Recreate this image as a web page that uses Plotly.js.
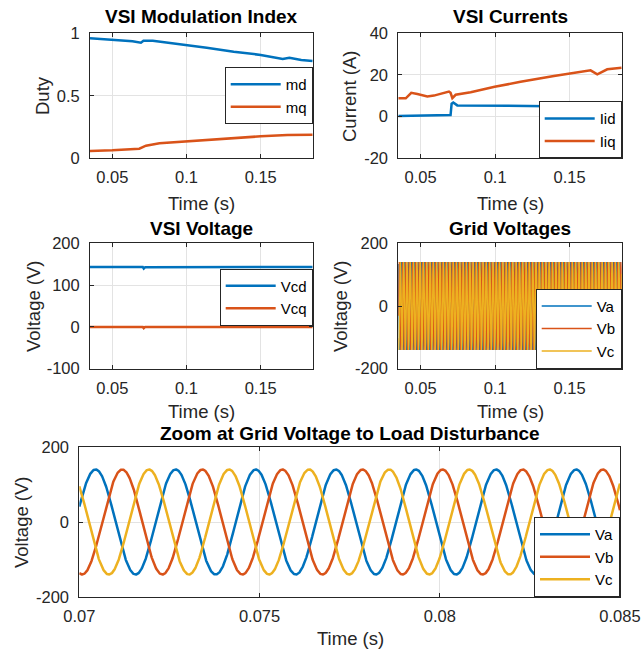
<!DOCTYPE html>
<html><head><meta charset="utf-8">
<script src="https://cdn.plot.ly/plotly-3.0.1.min.js"></script>
<style>html,body{margin:0;padding:0;background:#fff}</style>
</head><body><div id="chart" style="width:641px;height:652px"></div>
<script>
// ---- data ----
const mdTime = [0.035, 0.05, 0.0636, 0.0693, 0.071, 0.0773, 0.0864, 0.0995, 0.1136, 0.1318, 0.15, 0.1648, 0.1693, 0.1773, 0.185];
const md     = [0.96, 0.947, 0.936, 0.925, 0.941, 0.941, 0.928, 0.909, 0.885, 0.853, 0.827, 0.795, 0.805, 0.787, 0.779];
const mqTime = [0.035, 0.05, 0.0682, 0.0727, 0.0818, 0.0995, 0.1227, 0.15, 0.168, 0.185];
const mq     = [0.059, 0.064, 0.077, 0.101, 0.12, 0.136, 0.157, 0.176, 0.187, 0.189];

const iidTime = [0.035, 0.069, 0.0701, 0.0708, 0.0719, 0.0746, 0.0997, 0.15, 0.185];
const iid     = [0.3, 0.5, 0.8, 6.2, 6.8, 5.4, 5.2, 4.9, 4.9];
const iiqTime = [0.035, 0.04, 0.0437, 0.0478, 0.0545, 0.0589, 0.069, 0.0701, 0.0713, 0.0735, 0.0836, 0.0997, 0.1171, 0.1395, 0.1641, 0.1686, 0.1753, 0.185];
const iiq     = [8.8, 8.8, 11.4, 10.9, 9.7, 10.1, 12.0, 11.4, 8.9, 10.5, 11.7, 14.3, 16.7, 19.5, 22.2, 20.3, 22.7, 23.5];

const vcTime = [0.035, 0.0705, 0.0712, 0.0722, 0.185];
const vcd    = [143.5, 143.5, 139.5, 143, 143.5];
const vcq    = [0, 0, -3, 0, 0];

// grid voltage waveform parameters
const gridAmplitude = 140;      // V (peak)
const gridFrequencyHz = 450;    // from peak spacing (~2.22 ms)
const vaPeakTime = 0.07045;     // first Va peak in zoom window
const phaseLagDeg = [0, 120, 240]; // Va, Vb, Vc

const xTicksWide = [0.05, 0.1, 0.15];
const xTickTextWide = ['0.05', '0.1', '0.15'];
const xTicksZoom = [0.07, 0.075, 0.08, 0.085];
const xTickTextZoom = ['0.07', '0.075', '0.08', '0.085'];
const yTicksDuty = [0, 0.5, 1];           const yTextDuty = ['0', '0.5', '1'];
const yTicksCurr = [-20, 0, 20, 40];      const yTextCurr = ['-20', '0', '20', '40'];
const yTicksVsi  = [-100, 0, 100, 200];   const yTextVsi  = ['-100', '0', '100', '200'];
const yTicksGrid = [-200, 0, 200];        const yTextGrid = ['-200', '0', '200'];

// ---- build grid waveforms ----
function wave(t0, t1, dt, lag) {
  const x = [], y = [];
  for (let t = t0; t <= t1 + 1e-12; t += dt) {
    x.push(t);
    y.push(gridAmplitude * Math.cos(2 * Math.PI * gridFrequencyHz * (t - vaPeakTime) - lag * Math.PI / 180));
  }
  return {x, y};
}

const C = ['#0072BD', '#D95319', '#EDB120'];
const F = '"Liberation Sans", Arial, Helvetica, sans-serif';
const traces = [];
traces.push({x: mdTime, y: md, name: 'md', xaxis: 'x', yaxis: 'y', mode: 'lines', line: {color: C[0], width: 2.5}, legend: 'legend'});
traces.push({x: mqTime, y: mq, name: 'mq', xaxis: 'x', yaxis: 'y', mode: 'lines', line: {color: C[1], width: 2.5}, legend: 'legend'});
traces.push({x: iidTime, y: iid, name: 'Iid', xaxis: 'x2', yaxis: 'y2', mode: 'lines', line: {color: C[0], width: 2.5}, legend: 'legend2'});
traces.push({x: iiqTime, y: iiq, name: 'Iiq', xaxis: 'x2', yaxis: 'y2', mode: 'lines', line: {color: C[1], width: 2.5}, legend: 'legend2'});
traces.push({x: vcTime, y: vcd, name: 'Vcd', xaxis: 'x3', yaxis: 'y3', mode: 'lines', line: {color: C[0], width: 2.5}, legend: 'legend3'});
traces.push({x: vcTime, y: vcq, name: 'Vcq', xaxis: 'x3', yaxis: 'y3', mode: 'lines', line: {color: C[1], width: 2.5}, legend: 'legend3'});
const names = ['Va', 'Vb', 'Vc'];
for (let k = 0; k < 3; k++) {
  const w = wave(0.035, 0.185, 1e-5, phaseLagDeg[k]);
  traces.push({x: w.x, y: w.y, name: names[k], xaxis: 'x4', yaxis: 'y4', mode: 'lines', line: {color: C[k], width: 1.5}, legend: 'legend4'});
}
for (let k = 0; k < 3; k++) {
  const w = wave(0.07, 0.085, 1e-5, phaseLagDeg[k]);
  traces.push({x: w.x, y: w.y, name: names[k], xaxis: 'x5', yaxis: 'y5', mode: 'lines', line: {color: C[k], width: 2.5}, legend: 'legend5'});
}
traces.forEach(t => t.hoverinfo = 'skip');

function axis(domain, range, tickvals, ticktext, anchor, standoff) {
  return {domain, range, tickvals, ticktext, anchor, tickmode: 'array',
    showline: true, mirror: 'ticks', linecolor: '#262626', linewidth: 1,
    ticks: 'inside', ticklen: 4, tickcolor: '#262626', tickwidth: 1,
    showgrid: true, gridcolor: '#e3e3e3', gridwidth: 1, zeroline: false,
    ticklabelstandoff: standoff,
    tickfont: {family: F, size: 16.5, color: '#262626'}, fixedrange: true};
}
const xL = [90/641, 312.7/641], xR = [398.3/641, 621.7/641], xB = [79.3/641, 620/641];
const yT = [1 - 158.3/652, 1 - 33.3/652], yM = [1 - 368.7/652, 1 - 243.3/652], yB = [1 - 597/652, 1 - 447/652];

function legend(x, y, yanchor) {
  return {x, y, xanchor: 'right', yanchor, xref: 'paper', yref: 'paper',
    bgcolor: '#ffffff', bordercolor: '#262626', borderwidth: 1,
    font: {family: F, size: 15, color: '#000'}, itemwidth: 50, tracegroupgap: 0};
}
function px2x(p) { return p / 641; }
function px2y(p) { return 1 - p / 652; }
function ann(text, xp, yp, size, angle) {
  return {text, x: px2x(xp), y: px2y(yp), xref: 'paper', yref: 'paper', showarrow: false,
    xanchor: 'center', yanchor: 'middle', textangle: angle || 0,
    font: {family: F, size, color: angle === undefined ? '#000' : '#262626'}};
}
const annotations = [
  ann('<b>VSI Modulation Index</b>', 201.5, 17, 19),
  ann('<b>VSI Currents</b>', 510, 17, 19),
  ann('<b>VSI Voltage</b>', 201.5, 228, 19),
  ann('<b>Grid Voltages</b>', 510, 228, 19),
  ann('<b>Zoom at Grid Voltage to Load Disturbance</b>', 350, 433, 19),
  ann('Time (s)', 201.5, 203, 18.5, 0),
  ann('Time (s)', 510, 203, 18.5, 0),
  ann('Time (s)', 201.5, 411, 18.5, 0),
  ann('Time (s)', 510, 411, 18.5, 0),
  ann('Time (s)', 350, 638, 18.5, 0),
  ann('Duty', 42, 96, 18.5, -90),
  ann('Current (A)', 349, 96, 18.5, -90),
  ann('Voltage (V)', 34, 306, 18.5, -90),
  ann('Voltage (V)', 341, 306, 18.5, -90),
  ann('Voltage (V)', 21, 522, 18.5, -90)
];

const layout = {
  width: 641, height: 652, margin: {l: 0, r: 0, t: 0, b: 0},
  paper_bgcolor: '#fff', plot_bgcolor: '#fff', showlegend: true,
  font: {family: F, color: '#262626'},
  xaxis:  axis(xL, [0.035, 0.185], xTicksWide, xTickTextWide, 'y', 4),
  yaxis:  axis(yT, [0, 1], yTicksDuty, yTextDuty, 'x', 6),
  xaxis2: axis(xR, [0.035, 0.185], xTicksWide, xTickTextWide, 'y2', 4),
  yaxis2: axis(yT, [-20, 40], yTicksCurr, yTextCurr, 'x2', 6),
  xaxis3: axis(xL, [0.035, 0.185], xTicksWide, xTickTextWide, 'y3', 4),
  yaxis3: axis(yM, [-100, 200], yTicksVsi, yTextVsi, 'x3', 6),
  xaxis4: axis(xR, [0.035, 0.185], xTicksWide, xTickTextWide, 'y4', 4),
  yaxis4: axis(yM, [-200, 200], yTicksGrid, yTextGrid, 'x4', 6),
  xaxis5: axis(xB, [0.07, 0.085], xTicksZoom, xTickTextZoom, 'y5', 4),
  yaxis5: axis(yB, [-200, 200], yTicksGrid, yTextGrid, 'x5', 6),
  legend:  legend(312.7/641, 1 - 95.5/652, 'middle'),
  legend2: legend(621.7/641, 1 - 158.3/652, 'bottom'),
  legend3: legend(312.7/641, 1 - 297/652, 'middle'),
  legend4: legend(621.7/641, 1 - 368.7/652, 'bottom'),
  legend5: legend(620/641, 1 - 597/652, 'bottom'),
  annotations
};
Plotly.newPlot('chart', traces, layout, {staticPlot: true, displayModeBar: false});
</script>
</body></html>
